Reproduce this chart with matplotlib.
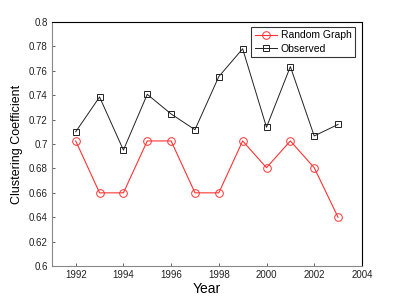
import matplotlib
matplotlib.use("Agg")
import matplotlib.pyplot as plt

# --- data ---
years = [1992, 1993, 1994, 1995, 1996, 1997, 1998, 1999, 2000, 2001, 2002, 2003]
random_graph = [0.7025, 0.66, 0.66, 0.7025, 0.7025, 0.66, 0.66, 0.7025, 0.6806, 0.7025, 0.6806, 0.64]
observed = [0.710, 0.7385, 0.695, 0.7407, 0.7246, 0.7117, 0.7552, 0.778, 0.7137, 0.7634, 0.7066, 0.716]
x_ticks = [1992, 1994, 1996, 1998, 2000, 2002, 2004]
y_ticks = [0.6, 0.62, 0.64, 0.66, 0.68, 0.7, 0.72, 0.74, 0.76, 0.78, 0.8]
y_tick_labels = ["0.6", "0.62", "0.64", "0.66", "0.68", "0.7", "0.72", "0.74", "0.76", "0.78", "0.8"]

plt.rcParams['font.family'] = ['Liberation Sans', 'DejaVu Sans']

fig = plt.figure(figsize=(3.99, 3.0), dpi=100)
ax = fig.add_axes([0.13, 0.113, 0.777, 0.814])

ax.plot(years, random_graph, color='#ff3333', linewidth=0.8, marker='o',
        markersize=5.5, markerfacecolor='none', markeredgecolor='#ff3333',
        markeredgewidth=0.7, label="Random Graph")
ax.plot(years, observed, color='#222222', linewidth=0.7, marker='s',
        markersize=4, markerfacecolor='none', markeredgecolor='#222222',
        markeredgewidth=0.7, label="Observed")

ax.set_xlim(1991, 2004)
ax.set_ylim(0.6, 0.8)
ax.set_xticks(x_ticks)
ax.set_yticks(y_ticks)
ax.set_yticklabels(y_tick_labels)
ax.tick_params(direction='in', length=2.5, width=0.5, labelsize=7, colors='#222222', pad=3)

for side in ['left', 'bottom']:
    ax.spines[side].set_color('#888888')
for side in ['top', 'right']:
    ax.spines[side].set_color('black')
for s in ax.spines.values():
    s.set_linewidth(0.8)

ax.set_xlabel("Year", fontsize=10, labelpad=1)
ax.set_ylabel("Clustering Coefficient", fontsize=9, labelpad=4)

leg = ax.legend(loc='upper right', bbox_to_anchor=(0.978, 0.98), fontsize=7.5,
                frameon=True, fancybox=False, edgecolor='black', borderpad=0.35,
                labelspacing=0.3, handlelength=2.1, handletextpad=0.4, borderaxespad=0)
leg.get_frame().set_linewidth(0.8)

fig.savefig("out.png", dpi=100)
